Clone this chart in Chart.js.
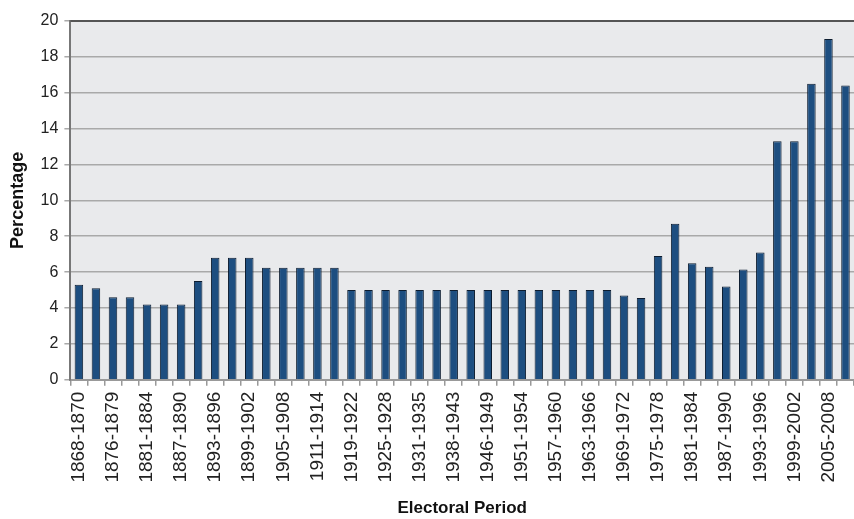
<!DOCTYPE html>
<html>
<head>
<meta charset="utf-8">
<script src="https://cdn.jsdelivr.net/npm/chart.js@4.4.1/dist/chart.umd.min.js"></script>
<style>
  html, body { margin: 0; padding: 0; background: #fff; }
  #chart { display: block; }
</style>
</head>
<body>
<canvas id="chart" width="854" height="519"></canvas>
<script>
// electoral periods, one bar each
const periods = [
    '1868-1870', '1871-1875', '1876-1879', '1879-1881', '1881-1884', '1884-1887',
    '1887-1890', '1890-1893', '1893-1896', '1896-1899', '1899-1902', '1902-1905',
    '1905-1908', '1908-1911', '1911-1914', '1914-1919', '1919-1922', '1922-1925',
    '1925-1928', '1928-1931', '1931-1935', '1935-1938', '1938-1943', '1943-1946',
    '1946-1949', '1949-1951', '1951-1954', '1954-1957', '1957-1960', '1960-1963',
    '1963-1966', '1966-1969', '1969-1972', '1972-1975', '1975-1978', '1978-1981',
    '1981-1984', '1984-1987', '1987-1990', '1990-1993', '1993-1996', '1996-1999',
    '1999-2002', '2002-2005', '2005-2008', '2008-2011'
];

// percentage per period
const percentage = [
    5.3, 5.1, 4.6, 4.6, 4.2, 4.2, 4.2, 5.5, 6.8, 6.8, 6.8, 6.25,
    6.25, 6.25, 6.25, 6.25, 5.0, 5.0, 5.0, 5.0, 5.0, 5.0, 5.0, 5.0,
    5.0, 5.0, 5.0, 5.0, 5.0, 5.0, 5.0, 5.0, 4.7, 4.55, 6.9, 8.7,
    6.5, 6.3, 5.2, 6.15, 7.1, 13.3, 13.3, 16.5, 19.0, 16.4
];

const yTicks = [0, 2, 4, 6, 8, 10, 12, 14, 16, 18, 20];

// grey plot background + dark top border
const plotBackground = {
    id: 'plotBackground',
    beforeDraw(chart) {
        const { ctx, chartArea: a } = chart;
        ctx.save();
        ctx.fillStyle = '#e9eaec';
        ctx.fillRect(a.left, a.top, a.right - a.left, a.bottom - a.top);
        ctx.restore();
    },
    afterDatasetsDraw(chart) {
        const { ctx, chartArea: a } = chart;
        ctx.save();
        ctx.strokeStyle = '#555';
        ctx.lineWidth = 2;
        ctx.beginPath();
        ctx.moveTo(a.left, a.top);
        ctx.lineTo(a.right, a.top);
        ctx.stroke();
        ctx.restore();
    }
};

new Chart(document.getElementById('chart'), {
    type: 'bar',
    data: {
        labels: periods,
        datasets: [{
            data: percentage,
            backgroundColor: '#1d4e80',
            borderColor: '#0d1d30',
            borderWidth: 1,
            barPercentage: 0.5,
            categoryPercentage: 1.0
        }]
    },
    plugins: [plotBackground],
    options: {
        responsive: false,
        animation: false,
        layout: { padding: { top: 21, right: 0, left: 7, bottom: 0 } },
        plugins: {
            legend: { display: false },
            tooltip: { enabled: false }
        },
        scales: {
            x: {
                // let the plot run to the right edge like the original
                afterFit: scale => { scale.paddingRight = 0; },
                grid: {
                    drawOnChartArea: false,
                    drawTicks: true,
                    tickLength: 6,
                    color: '#999',
                    lineWidth: 1.5
                },
                border: { color: '#999', width: 2 },
                ticks: {
                    autoSkip: false,
                    minRotation: 90,
                    maxRotation: 90,
                    color: '#222',
                    padding: 6,
                    font: { family: 'Liberation Sans, Arial', size: 19 },
                    callback: function(value, index) {
                        return index % 2 === 0 ? this.getLabelForValue(value) : '';
                    }
                },
                title: {
                    display: true,
                    text: 'Electoral Period',
                    color: '#111',
                    padding: { top: 10, bottom: 0 },
                    font: { family: 'Liberation Sans, Arial', size: 17, weight: 'bold' }
                }
            },
            y: {
                min: 0,
                max: 20,
                afterBuildTicks: axis => { axis.ticks = yTicks.map(v => ({ value: v })); },
                grid: {
                    color: '#a9a9a9',
                    lineWidth: 1.5,
                    tickLength: 6
                },
                border: { color: '#777', width: 2 },
                ticks: {
                    color: '#222',
                    padding: 6,
                    font: { family: 'Liberation Sans, Arial', size: 16 }
                },
                title: {
                    display: true,
                    text: 'Percentage',
                    color: '#111',
                    padding: { top: 0, bottom: 6 },
                    font: { family: 'Liberation Sans, Arial', size: 18, weight: 'bold' }
                }
            }
        }
    }
});
</script>
</body>
</html>
